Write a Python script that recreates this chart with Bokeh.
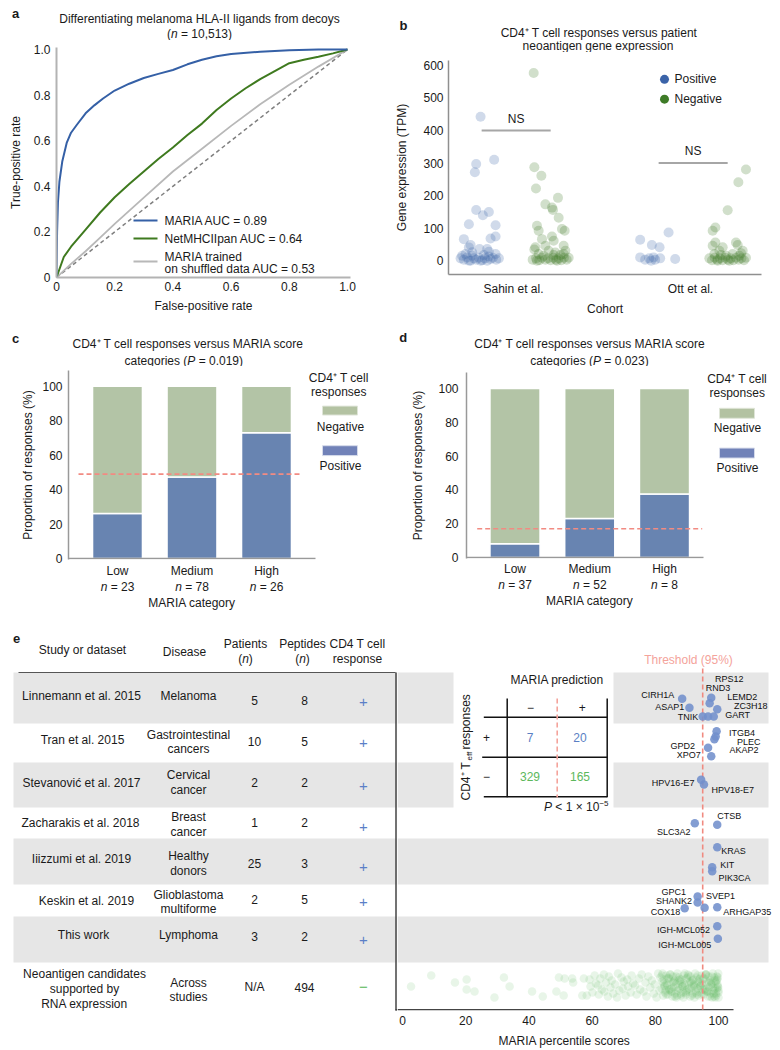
import math
from bokeh.plotting import figure
from bokeh.models import Range1d, Label, FixedTicker
from bokeh.layouts import row, column
from bokeh.embed import file_html
from bokeh.resources import INLINE
from bokeh.core.properties import value

FONT = "Liberation Sans"
INK = "#1a1a1a"

# ======================= DATA =======================
# (a) ROC curves
maria_fpr = [0, 0.002, 0.005, 0.01, 0.02, 0.035, 0.05, 0.07, 0.1, 0.13, 0.16, 0.2, 0.25, 0.3,
             0.35, 0.4, 0.45, 0.5, 0.55, 0.6, 0.7, 0.8, 0.9, 1.0]
maria_tpr = [0, 0.2, 0.33, 0.42, 0.51, 0.59, 0.635, 0.67, 0.72, 0.755, 0.785, 0.82, 0.85, 0.875,
             0.893, 0.91, 0.935, 0.955, 0.97, 0.98, 0.99, 0.997, 1.0, 1.0]
netmhc_fpr = [0, 0.025, 0.05, 0.1, 0.15, 0.2, 0.25, 0.3, 0.35, 0.4, 0.45, 0.5, 0.55, 0.6, 0.65,
              0.7, 0.75, 0.8, 0.85, 0.9, 0.95, 1.0]
netmhc_tpr = [0, 0.09, 0.135, 0.21, 0.285, 0.352, 0.41, 0.465, 0.52, 0.57, 0.625, 0.675, 0.735,
              0.785, 0.83, 0.87, 0.905, 0.94, 0.955, 0.968, 0.983, 1.0]
shuf_fpr = [0, 0.05, 0.1, 0.15, 0.2, 0.3, 0.4, 0.5, 0.6, 0.7, 0.8, 0.9, 1.0]
shuf_tpr = [0, 0.06, 0.115, 0.175, 0.235, 0.35, 0.465, 0.565, 0.665, 0.76, 0.845, 0.925, 1.0]
roc_legend = ["MARIA AUC = 0.89", "NetMHCIIpan AUC = 0.64", "MARIA trained", "on shuffled data AUC = 0.53"]

# (b) gene expression (TPM)
cohorts = ["Sahin et al.", "Ott et al."]
sahin_pos_tpm = [442.5, 297, 271.6, 310, 155.6, 139.4, 149.5, 111.9, 108.8, 74.3, 68.2, 66.1, 47.8,
                 40.7, 35.6, 35.6, 20.3, 25.4, 27.5, 20.3, 7, 3, 10, 0, 7, 3, 9, 1, 7, 0, 5, 9, 3,
                 7, 0, 0, 13, 15, 15, 17]
sahin_neg_tpm = [577, 287, 261, 222, 173, 193, 163, 156, 132, 107, 92, 97, 92, 74, 66, 61, 41, 46,
                 46, 25, 34, 30.5, 20, 3, 7, 1, 9, 3, 7, 1, 9, 3, 7, 1, 9, 3, 9, 15, 17, 20, 17,
                 30.5, 0, 0]
ott_pos_tpm = [64, 48, 41, 86.5, 10, 3, 7, 10, 3, 7, 5, 0]
ott_neg_tpm = [280, 241, 155, 92, 102, 46, 56, 56, 48, 41, 30.5, 30.5, 7, 1, 9, 3, 7, 1, 9, 3, 7,
               1, 9, 3, 7, 1, 9, 17, 20, 23, 20, 15, 15, 0, 0]
ns_level = [400, 300]

# (c), (d) MARIA categories
mc_categories = ["Low", "Medium", "High"]
c_n = [23, 78, 26]
c_pos = [26.1, 47.4, 73.1]
c_base = 49
d_n = [37, 52, 8]
d_pos = [8.1, 23.1, 37.5]
d_base = 17

# (e) table
studies = [["Linnemann et al. 2015"], ["Tran et al. 2015"], ["Stevanović et al. 2017"],
           ["Zacharakis et al. 2018"], ["Iiizzumi et al. 2019"], ["Keskin et al. 2019"],
           ["This work"], ["Neoantigen candidates", "supported by", "RNA expression"]]
diseases = [["Melanoma"], ["Gastrointestinal", "cancers"], ["Cervical", "cancer"], ["Breast", "cancer"],
            ["Healthy", "donors"], ["Glioblastoma", "multiforme"], ["Lymphoma"], ["Across", "studies"]]
patients = ["5", "10", "2", "1", "25", "2", "3", "N/A"]
peptides = ["8", "5", "2", "2", "3", "5", "2", "494"]
responses = ["+", "+", "+", "+", "+", "+", "+", "−"]
contingency = [["7", "20"], ["329", "165"]]
threshold = 95

gene_names = ["CIRH1A", "ASAP1", "TNIK", "RPS12", "RND3", "LEMD2", "ZC3H18", "GART",
              "ITGB4", "PLEC", "AKAP2", "GPD2", "XPO7",
              "HPV16-E7", "HPV18-E7",
              "CTSB", "SLC3A2",
              "KRAS", "KIT", "PIK3CA",
              "GPC1", "SHANK2", "COX18", "SVEP1", "ARHGAP35",
              "IGH-MCL052", "IGH-MCL005"]
gene_scores = [88.5, 90.8, 95.0, 97.7, 97.2, 99.6, 98.5, 96.7,
               99.4, 99.1, 98.7, 96.7, 97.7,
               94.5, 95.4,
               99.6, 92.5,
               99.6, 98.0, 98.0,
               93.4, 93.4, 89.3, 95.6, 99.6,
               99.6, 99.8]
gene_study = [0] * 8 + [1] * 5 + [2] * 2 + [3] * 2 + [4] * 3 + [5] * 5 + [6] * 2

neo_scores = [2.7, 9.1, 16.6, 20.3, 20.3, 22.8, 29.1, 32.1, 33.9, 41.0, 44.4, 48.7, 49.5, 51.0, 51.3,
              53.7, 54.0, 56.9, 57.4,
              58.3, 59.2, 59.5, 60.1, 60.8, 61.2, 61.9, 62.1, 62.6, 63.1, 63.7, 63.9, 64.4, 65.0,
              65.3, 65.8, 66.2, 66.7, 67.3, 67.9, 68.2, 68.6, 69.3, 69.7, 70.0, 70.6, 71.1, 71.4,
              72.2, 72.5, 73.0, 73.6, 74.1, 74.8, 75.2, 75.7, 76.3, 76.9, 77.2, 77.8, 78.4, 78.9,
              79.5, 79.8, 80.4, 80.9, 81.3, 81.6,
              82.0, 82.2, 82.5, 82.7, 82.9, 83.1, 83.4, 83.6, 83.8, 84.0, 84.3, 84.5, 84.7, 84.9,
              85.2, 85.4, 85.6, 85.8, 86.1, 86.3, 86.5, 86.7, 87.0, 87.2, 87.4, 87.6, 87.9, 88.1,
              88.3, 88.5, 88.8, 89.0, 89.2, 89.4, 89.7, 89.9, 90.1, 90.3, 90.6, 90.8, 91.0, 91.2,
              91.5, 91.7, 91.9, 92.1, 92.4, 92.6, 92.8, 93.0, 93.3, 93.5, 93.7, 93.9, 94.2, 94.4,
              94.6, 94.8, 95.1, 95.3, 95.5, 95.7, 96.0, 96.2, 96.4, 96.6, 96.9, 97.1, 97.3, 97.5,
              97.8, 98.0, 98.2, 98.4, 98.7, 98.9, 99.1, 99.3, 99.6, 99.8, 100.0,
              82.1, 82.6, 83.0, 83.5, 83.9, 84.4, 84.8, 85.3, 85.7, 86.2, 86.6, 87.1, 87.5, 88.0,
              88.4, 88.9, 89.3, 89.8, 90.2, 90.7, 91.1, 91.6, 92.0, 92.5, 92.9, 93.4, 93.8, 94.3,
              94.7, 95.2, 95.6, 96.1, 96.5, 97.0, 97.4, 97.9, 98.3, 98.8, 99.2, 99.7, 100.0,
              82.3, 83.3, 84.2, 85.1, 86.0, 86.9, 87.8, 88.7, 89.6, 90.5, 91.4, 92.3, 93.2, 94.1,
              95.0, 95.9, 96.8, 97.7, 98.6, 99.5, 99.9, 99.4, 98.5, 97.6, 99.0, 99.9, 100.0, 99.8,
              99.5]

# ======================= LAYOUT / STYLE (positions, offsets) =======================
sahin_pos_jit = [0.7, -3.7, -5, 14.3, -3.7, 3, 9, -11, 15.7, 15.7, 10.7, -16, -9.3, -11, -0.3, 7.3,
                 -14.3, -7.7, 9, 15.7, -19.3, -16, -12.7, -9.3, -6, -3.7, -1, 2.3, 5, 7.3, 10.7, 13,
                 16.3, 19, -11, 0.7, 9, -7.7, -17.7, 4]
sahin_neg_jit = [-17, -16.3, -9.3, -14.7, -5.3, 7.3, 1.3, 2.3, 8, -13.7, -12, 11.3, 14, 1.3, -8.7, 3,
                 -15.3, -5.3, 13, 4.7, -16.3, -2, 13, -18, -14.7, -11.3, -8.7, -5.3, -2.7, 0, 2.7,
                 5.3, 8, 10.7, 13.3, 16, 18, -7, 9.7, -12, 3, 14.7, -13.7, 6.3]
ott_pos_jit = [-16.7, -5, 2.7, 11.7, -16.7, -11.7, -7.7, -3.3, -1.7, 3.3, 18.3, -5.7]
ott_neg_jit = [18.3, 10.7, 0, -15, -12.3, -15, -12.3, 8.3, 10, -5, 15, -8.3, -18.3, -15.7, -13,
               -10.3, -7.7, -5, -2.3, 0.3, 3, 5.7, 8.3, 11, 13.7, 16.3, 18.3, -6.7, 5, 13.3, -13.3,
               -1.7, 11.7, -10, 1.7]

ROW_EDGES = [672, 723, 762, 807, 838, 884, 916, 962, 1010]
gene_dy = [26.3, 35.3, 44, 25.3, 30.7, 36.7, 44, 44,
           7.7, 13, 15.7, 24.3, 32.7,
           17.3, 22,
           17.3, 15.7,
           8.7, 28.7, 32.7,
           12, 18, 23.7, 23.3, 22.7,
           9.7, 22.3]
gene_lab_off = [(-24.4, -4.3), (-19.7, -0.6), (-14.6, 0.7), (18, -19), (8.3, -15.4), (25, -12.7),
                (37, -11), (29.6, -2),
                (25.3, 1.6), (33, 5), (29.7, 10.3), (-25.4, -2.3), (-22.4, -1.7),
                (-28, 3), (28.7, 5),
                (12, -8.6), (-21, 8.3),
                (16.3, 4), (15, -2.4), (22.3, 6.6),
                (-24, -5), (-23.6, -1.3), (-19.3, 3.3), (16, -11.6), (30, 5),
                (-33.7, 3.3), (-33, 6)]
neo_dy_first = [1, -10, -3, -6, 4, 6, 12, -8, 1, 6, 11, 6, -8, 10, -7, -7, -3, 10, -7]
JIT = [0, 9, -7, 4, -11, 6, -3, 11, -9, 2, -5, 8, -1, 12, -12, 5, -8, 3, -4, 10, -6, 1, 7, -10, -2]

W = {' ': 278, '(': 333, ')': 333, ',': 278, '-': 333, '.': 278, '/': 278, '=': 584, '<': 584,
     '×': 584, '%': 889, '+': 584, '−': 584, '⁺': 350, '⁻': 350, '⁵': 350,
     'A': 667, 'B': 667, 'C': 722, 'D': 722, 'E': 667, 'F': 611, 'G': 778, 'H': 722, 'I': 278,
     'J': 500, 'K': 667, 'L': 556, 'M': 833, 'N': 722, 'O': 778, 'P': 667, 'Q': 778, 'R': 722,
     'S': 667, 'T': 611, 'U': 722, 'V': 667, 'W': 944, 'X': 667, 'Y': 667, 'Z': 611,
     'a': 556, 'b': 556, 'c': 500, 'd': 556, 'e': 556, 'f': 278, 'g': 556, 'h': 556, 'i': 222,
     'j': 222, 'k': 500, 'l': 222, 'm': 833, 'n': 556, 'o': 556, 'p': 556, 'q': 556, 'r': 333,
     's': 500, 't': 278, 'u': 556, 'v': 500, 'w': 722, 'x': 500, 'y': 500, 'z': 500}
for _d in "0123456789":
    W[_d] = 556


def tw(s, size):
    return sum(W.get(c, 556) for c in s) * size / 1000.0


class M:
    def __init__(self, x0, xs, y0, ys):
        self.x0, self.xs, self.y0, self.ys = x0, xs, y0, ys

    def X(self, px):
        return (px - self.x0) / self.xs

    def Y(self, py):
        return (self.y0 - py) / self.ys


PIX = M(0, 1, 0, 1)


def make_fig(m, gx, gy, w, h, fx0, fx1, fy0, fy1, xaxis=True, yaxis=True):
    kw = dict(width=w, height=h,
              x_range=Range1d(m.X(fx0), m.X(fx1)), y_range=Range1d(m.Y(fy1), m.Y(fy0)),
              output_backend="svg", toolbar_location=None, title=None,
              min_border_left=fx0 - gx, min_border_right=gx + w - fx1,
              min_border_top=fy0 - gy, min_border_bottom=gy + h - fy1,
              background_fill_color="white", border_fill_color="white", outline_line_color=None)
    if not xaxis:
        kw["x_axis_location"] = None
    if not yaxis:
        kw["y_axis_location"] = None
    p = figure(**kw)
    p.xgrid.visible = False
    p.ygrid.visible = False
    return p


def strip(gx, gy, w, h):
    return make_fig(PIX, gx, gy, w, h, gx, gx + w, gy, gy + h, xaxis=False, yaxis=False)


def solo(p):
    # wrap a figure so that sibling figures do not get their borders aligned with it
    return row(p)


def style_axis(ax, color, width, standoff, label_standoff=5):
    ax.axis_line_color = color
    ax.axis_line_width = width
    ax.major_tick_line_color = None
    ax.minor_tick_line_color = None
    ax.major_tick_out = 0
    ax.major_tick_in = 0
    ax.minor_tick_out = 0
    ax.minor_tick_in = 0
    ax.major_label_text_font = FONT
    ax.major_label_text_font_size = "12px"
    ax.major_label_text_color = INK
    ax.major_label_standoff = standoff
    ax.axis_label_text_font = FONT
    ax.axis_label_text_font_size = "12px"
    ax.axis_label_text_font_style = "normal"
    ax.axis_label_text_color = INK
    ax.axis_label_standoff = label_standoff


def T(p, m, px, py, text, size=12, color=INK, align="center", style="normal", angle=0.0):
    p.add_layout(Label(x=m.X(px), y=m.Y(py), text=text, text_font=FONT,
                       text_font_size=f"{size}px", text_color=color, text_align=align,
                       text_baseline="middle", text_font_style=style, angle=angle))


def R(p, m, px, py, parts, align="center", color=INK):
    total = sum(tw(t, sz) for t, st, sz, dy in parts)
    x = px - total / 2 if align == "center" else (px - total if align == "right" else px)
    for t, st, sz, dy in parts:
        lead = len(t) - len(t.lstrip(" "))
        x += tw(" " * lead, sz)
        core = t.strip(" ")
        T(p, m, x, py + dy, core, sz, color, "left", st)
        x += tw(core, sz) + tw(" " * (len(t.lstrip(" ")) - len(core)), sz)


BLUE_B = "#3a63a8"
GREEN_B = "#3e7b27"
POS_BAR = "#6884b1"
NEG_BAR = "#b3c4a6"
RED = "#f28b82"

# ======================= (a) =======================
ma = M(56, 291, 277, 228)
fa_t = strip(0, 0, 390, 40)
T(fa_t, PIX, 15, 13, "a", size=13, style="bold")
T(fa_t, PIX, 199, 18, "Differentiating melanoma HLA-II ligands from decoys")
R(fa_t, PIX, 199, 33, [("(", "normal", 12, 0), ("n", "italic", 12, 0), (" = 10,513)", "normal", 12, 0)])

fa = make_fig(ma, 0, 40, 390, 278, 56, 350, 47, 277)
fa.line([0, 1], [0, 1], line_color="#7f7f7f", line_width=1.5, line_dash="4 3")
fa.line(shuf_fpr, shuf_tpr, line_color="#b8b8b8", line_width=1.8)
fa.line(netmhc_fpr, netmhc_tpr, line_color="#3f7a1f", line_width=2)
fa.line(maria_fpr, maria_tpr, line_color="#3560a6", line_width=2)
style_axis(fa.xaxis[0], "#b3b3b3", 2, 4, 5)
style_axis(fa.yaxis[0], "#b3b3b3", 2, 6, 8)
for ax in (fa.xaxis[0], fa.yaxis[0]):
    ax.ticker = FixedTicker(ticks=[0, 0.2, 0.4, 0.6, 0.8, 1.0])
    ax.major_label_overrides = {0: "0", 1: "1.0"}
fa.xaxis.axis_label = "False-positive rate"
fa.yaxis.axis_label = "True-positive rate"
for (py, col) in [(220, "#3560a6"), (238, "#3f7a1f"), (261, "#b8b8b8")]:
    fa.segment(x0=ma.X(133), y0=ma.Y(py), x1=ma.X(157), y1=ma.Y(py), line_color=col, line_width=2)
for txt, py in zip(roc_legend, [220, 238, 256, 268]):
    T(fa, ma, 164, py, txt, align="left")

# ======================= (b) =======================
mb = M(513, 177, 262, 0.32833)
fb_t = strip(390, 0, 390, 52)
T(fb_t, PIX, 403, 25, "b", size=13, style="bold")
T(fb_t, PIX, 598.5, 32, "CD4⁺ T cell responses versus patient")
T(fb_t, PIX, 597.5, 45, "neoantigen gene expression")

fb = make_fig(mb, 390, 52, 390, 266, 448, 761, 60, 276)
POS_OFF, NEG_OFF = -0.19, 0.21
groups = [(0 + POS_OFF, sahin_pos_tpm, sahin_pos_jit, BLUE_B),
          (0 + NEG_OFF, sahin_neg_tpm, sahin_neg_jit, GREEN_B),
          (1 + POS_OFF, ott_pos_tpm, ott_pos_jit, BLUE_B),
          (1 + NEG_OFF, ott_neg_tpm, ott_neg_jit, GREEN_B)]
for cx, vals, jit, col in groups:
    fb.scatter(x=[cx + j / 177.0 for j in jit], y=vals, size=10, fill_color=col,
               fill_alpha=0.24, line_color=None)
for i, lvl in enumerate(ns_level):
    fb.segment(x0=i - 0.18, y0=lvl, x1=i + 0.21, y1=lvl, line_color="#a6a6a6", line_width=2)
    fb.text(x=[i + 0.015], y=[lvl + 12 / 0.32833], text=["NS"], text_font=value(FONT),
            text_font_size=value("12px"), text_align="center", text_baseline="middle",
            text_color=INK)
style_axis(fb.xaxis[0], "#8f8f8f", 1.5, 7, 3)
style_axis(fb.yaxis[0], "#8f8f8f", 1.5, 5, 11)
fb.xaxis.ticker = FixedTicker(ticks=[0, 1])
fb.xaxis.major_label_overrides = {0: cohorts[0], 1: cohorts[1]}
fb.yaxis.ticker = FixedTicker(ticks=[0, 100, 200, 300, 400, 500, 600])
fb.xaxis.axis_label = "Cohort"
fb.yaxis.axis_label = "Gene expression (TPM)"
fb.scatter(x=[mb.X(664), mb.X(664)], y=[mb.Y(79), mb.Y(99)], size=9,
           fill_color=[BLUE_B, GREEN_B], line_color=None)
T(fb, mb, 674, 79, "Positive", align="left")
T(fb, mb, 674, 99, "Negative", align="left")


# ======================= (c) / (d) =======================
def bar_panel(m, gx, frame, fig_bottom, pos, base, ns, pval, axis_end_px, title_px,
              leg, letter, letter_pos, n_py, cat_py, ylab_standoff, ytick_standoff,
              xtick_standoff, red_px):
    fx0, fy0, fy1 = frame
    t = strip(gx, 318, 390, 48)
    T(t, PIX, letter_pos[0], letter_pos[1], letter, size=13, style="bold")
    T(t, PIX, title_px[0], 343.5, "CD4⁺ T cell responses versus MARIA score")
    R(t, PIX, title_px[1], 360, [("categories (", "normal", 12, 0), ("P", "italic", 12, 0),
                                 (f" = {pval})", "normal", 12, 0)])

    p = make_fig(m, gx, 366, 390, fig_bottom - 366, fx0, gx + 390, fy0, fy1)
    xs = list(range(len(mc_categories)))
    p.vbar(x=xs, bottom=0, top=pos, width=0.67, fill_color=POS_BAR, line_color="white",
           line_width=1.5)
    p.vbar(x=xs, bottom=pos, top=[100] * len(xs), width=0.67, fill_color=NEG_BAR,
           line_color="white", line_width=1.5)
    p.segment(x0=m.X(red_px[0]), y0=base, x1=m.X(red_px[1]), y1=base, line_color=RED,
              line_width=1.6, line_dash="5 3")
    p.segment(x0=m.X(fx0), y0=0, x1=m.X(axis_end_px), y1=0, line_color="#999999", line_width=1.5)
    style_axis(p.xaxis[0], None, 1, xtick_standoff)
    style_axis(p.yaxis[0], "#999999", 1.5, ytick_standoff, ylab_standoff)
    p.xaxis.ticker = FixedTicker(ticks=xs)
    p.xaxis.major_label_overrides = {i: c for i, c in enumerate(mc_categories)}
    p.yaxis.ticker = FixedTicker(ticks=[0, 20, 40, 60, 80, 100])
    p.yaxis.axis_label = "Proportion of responses (%)"
    (hx, hy1, hy2), (sx0, sx1), (ny0, ny1, nty), (py0, py1, pty) = leg
    T(p, m, hx, hy1, "CD4⁺ T cell")
    T(p, m, hx, hy2, "responses")
    p.quad(left=m.X(sx0), right=m.X(sx1), top=m.Y(ny0), bottom=m.Y(ny1), fill_color="#b3c2a2",
           line_color="#dfe5d8", line_width=1)
    p.quad(left=m.X(sx0), right=m.X(sx1), top=m.Y(py0), bottom=m.Y(py1), fill_color="#7182b8",
           line_color="#d6dbea", line_width=1)
    T(p, m, (sx0 + sx1) / 2 + 0.5, nty, "Negative")
    T(p, m, (sx0 + sx1) / 2 + 0.5, pty, "Positive")

    b = strip(gx, fig_bottom, 390, 613 - fig_bottom)
    for i, n in enumerate(ns):
        cx = m.x0 + i * m.xs
        R(b, PIX, cx, n_py, [("n", "italic", 12, 0), (f" = {n}", "normal", 12, 0)])
    T(b, PIX, m.x0 + 1 * m.xs, cat_py, "MARIA category")
    return column(solo(t), solo(p), solo(b))


mc = M(117, 74.5, 560, 1.74)
col_c = bar_panel(mc, 0, (68, 370, 561), 580, c_pos, c_base, c_n, "0.019", 315,
                  (187.7, 183.3),
                  [(338.3, 378, 392), (322, 357), (406, 415, 427), (446, 456, 467)],
                  "c", (15, 338), 586, 602, 4, 6, 4, (78, 302))
md = M(514.5, 74.75, 558, 1.70)
col_d = bar_panel(md, 390, (466, 372, 559), 578, d_pos, d_base, d_n, "0.023", 703,
                  (589.5, 589),
                  [(736.7, 379, 393), (719, 754), (408, 418, 428), (448, 458, 468)],
                  "d", (402.7, 336.7), 584.3, 600, 10, 8, 3, (476.7, 701.7))

# ======================= (e) table =======================
fe1 = strip(0, 613, 397, 437)
SHADE = "#e6e6e6"
for r in (0, 2, 4, 6):
    fe1.quad(left=13, right=397, top=-ROW_EDGES[r], bottom=-ROW_EDGES[r + 1], fill_color=SHADE,
             line_color=None)
fe1.segment(x0=18, y0=-672, x1=395, y1=-672, line_color="#555555", line_width=1)
fe1.segment(x0=395.5, y0=-672, x1=395.5, y1=-1010, line_color="#444444", line_width=1.5)
fe1.segment(x0=395, y0=-1009.3, x1=397, y1=-1009.3, line_color="#444444", line_width=1.5)
T(fe1, PIX, 16, 638, "e", size=13, style="bold")
T(fe1, PIX, 82, 649, "Study or dataset")
T(fe1, PIX, 184, 651, "Disease")
T(fe1, PIX, 245, 643, "Patients")
R(fe1, PIX, 245, 658, [("(", "normal", 12, 0), ("n", "italic", 12, 0), (")", "normal", 12, 0)])
T(fe1, PIX, 302, 643, "Peptides")
R(fe1, PIX, 302, 658, [("(", "normal", 12, 0), ("n", "italic", 12, 0), (")", "normal", 12, 0)])
T(fe1, PIX, 357, 643, "CD4 T cell")
T(fe1, PIX, 357, 658, "response")

study_x = [81, 82, 81, 80, 81, 86, 83, 84]
study_y = [[695], [739.3], [782.3], [822.3], [858.3], [900.7], [934.3], [973.3, 988.3, 1003.3]]
dis_y = [[695], [734, 748.3], [774.3, 789.3], [816.7, 831], [855, 870], [894, 908.3], [934.3],
         [982.7, 996.7]]
num_y = [700, 741, 782, 822, 863.3, 899, 935.5, 986.7]
resp_y = [701.7, 742.3, 785, 826.7, 866, 901.7, 939, 986.7]
for i in range(len(studies)):
    for line, y in zip(studies[i], study_y[i]):
        T(fe1, PIX, study_x[i], y, line)
    for line, y in zip(diseases[i], dis_y[i]):
        T(fe1, PIX, 188, y, line)
    T(fe1, PIX, 254, num_y[i], patients[i])
    T(fe1, PIX, 304, num_y[i], peptides[i])
    rc = "#5b7fc7" if responses[i] == "+" else "#5cb85c"
    T(fe1, PIX, 363, resp_y[i], responses[i], size=15, color=rc)

# ======================= (e) scatter =======================
me = M(402, 3.16, 0, 1)
fe2 = make_fig(me, 397, 613, 383, 416, 397, 780, 613, 1010, yaxis=False)
for r in (0, 2):
    for (a, b) in [(397, 453), (613, 768)]:
        fe2.quad(left=me.X(a), right=me.X(b), top=-ROW_EDGES[r], bottom=-ROW_EDGES[r + 1],
                 fill_color=SHADE, line_color=None)
for r in (4, 6):
    fe2.quad(left=me.X(397), right=me.X(768), top=-ROW_EDGES[r], bottom=-ROW_EDGES[r + 1],
             fill_color=SHADE, line_color=None)
fe2.segment(x0=me.X(397), y0=-1009.3, x1=me.X(733), y1=-1009.3, line_color="#444444",
            line_width=1.5)
style_axis(fe2.xaxis[0], None, 1, 5)
fe2.xaxis.ticker = FixedTicker(ticks=[0, 20, 40, 60, 80, 100])

neo_y = []
for i, s in enumerate(neo_scores):
    dy = neo_dy_first[i] if i < len(neo_dy_first) else JIT[i % len(JIT)]
    neo_y.append(-(985 + dy))
fe2.scatter(x=neo_scores, y=neo_y, size=8.5, fill_color="#5cb85c", fill_alpha=0.14,
            line_color=None)

fe2.segment(x0=threshold, y0=-668, x1=threshold, y1=-1010, line_color="#f08a80", line_width=1.6,
            line_dash="5 3")
T(fe2, me, 688, 659, f"Threshold ({threshold}%)", color="#f4a39b")

gy = [-(ROW_EDGES[r] + d) for r, d in zip(gene_study, gene_dy)]
fe2.scatter(x=gene_scores, y=gy, size=8.5, fill_color="#7290cc", fill_alpha=0.88, line_color=None)
lx = [s + o[0] / 3.16 for s, o in zip(gene_scores, gene_lab_off)]
ly = [y - o[1] for y, o in zip(gy, gene_lab_off)]
fe2.text(x=lx, y=ly, text=gene_names, text_font=value(FONT), text_font_size=value("9px"),
         text_align="center", text_baseline="middle", text_color="#111111")

# inset contingency table
for xpx in (506.7, 606.7):
    fe2.segment(x0=me.X(xpx), y0=-698, x1=me.X(xpx), y1=-796.7, line_color="#111111",
                line_width=1.5)
for ypx, x0 in ((716.7, 483.3), (756.7, 481.7), (796.3, 483.3)):
    fe2.segment(x0=me.X(x0), y0=-ypx, x1=me.X(606.7), y1=-ypx, line_color="#111111",
                line_width=1.5)
fe2.segment(x0=me.X(556.7), y0=-698, x1=me.X(556.7), y1=-797, line_color="#f4a39b",
            line_width=1.6, line_dash="5 3")
T(fe2, me, 556.7, 679, "MARIA prediction")
T(fe2, me, 530, 706.5, "−")
T(fe2, me, 581.7, 706.5, "+")
T(fe2, me, 486, 736.5, "+")
T(fe2, me, 486, 775.5, "−")
cell_x = [529.5, 579.5]
cell_y = [736.7, 775.7]
cell_c = ["#5a7fc4", "#5cb85c"]
for i in range(2):
    for j in range(2):
        T(fe2, me, cell_x[j], cell_y[i], contingency[i][j], color=cell_c[i])
R(fe2, me, 608, 806.7, [("P", "italic", 12, 0), (" < 1 × 10", "normal", 12, 0),
                        ("−5", "normal", 8, -4)], align="right")
T(fe2, me, 465, 800, "CD4⁺ T", align="left", angle=math.pi / 2)
T(fe2, me, 468.5, 760, "eff", size=8, align="left", angle=math.pi / 2)
T(fe2, me, 465, 749, "responses", align="left", angle=math.pi / 2)

fe2_b = strip(397, 1029, 383, 21)
T(fe2_b, PIX, 564, 1040, "MARIA percentile scores")

layout = column(row(column(solo(fa_t), solo(fa)), column(solo(fb_t), solo(fb))),
                row(col_c, col_d),
                row(solo(fe1), column(solo(fe2), solo(fe2_b))))
open("out.html", "w").write(file_html(layout, INLINE, title="MARIA figure"))
